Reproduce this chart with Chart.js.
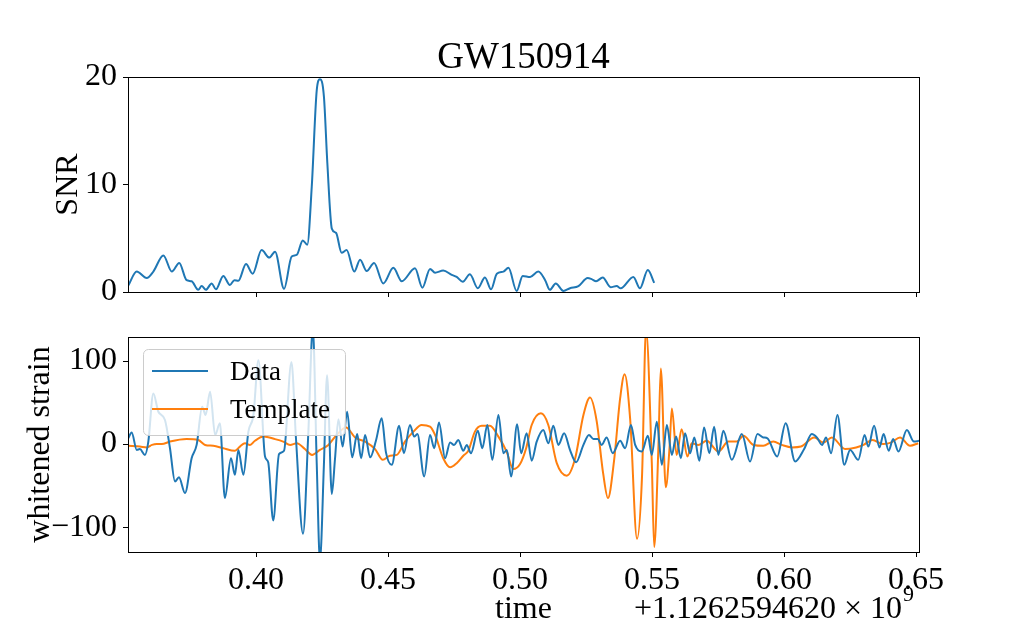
<!DOCTYPE html>
<html>
<head>
<meta charset="utf-8">
<title>GW150914</title>
<script src="https://cdn.jsdelivr.net/npm/chart.js@4.4.1/dist/chart.umd.min.js"></script>
<style>
    html, body { margin: 0; padding: 0; background: #fff; }
    #wrap { position: relative; width: 1021px; height: 631px; overflow: hidden; background: #fff; }
    #wrap canvas { position: absolute; left: 0; }
    #snrChart    { top: 0; }
    #strainChart { top: 310px; }
</style>
</head>
<body>
<div id="wrap">
    <canvas id="snrChart" width="1021" height="310"></canvas>
    <canvas id="strainChart" width="1021" height="321"></canvas>
</div>
<script>
// ══════════════════════════════════════════════════════════════
// DATA (time in s, offset +1.1262594620e9)
// ══════════════════════════════════════════════════════════════
const figTitle    = 'GW150914';
const xMin        = 0.3515;
const xMax        = 0.6511;
const xTicks      = [0.40, 0.45, 0.50, 0.55, 0.60, 0.65];
const snrTicks    = [0, 10, 20];
const strainTicks = [-100, 0, 100];
const xLabel      = 'time';
const offsetMain  = '+1.1262594620 \u00d7 10';
const offsetExp   = '9';

const snrTime = [
    0.3516, 0.3548, 0.3586, 0.3611, 0.3649, 0.3681, 0.3709, 0.3737, 0.3756, 0.3781,
    0.3794, 0.3810, 0.3832, 0.3848, 0.3876, 0.3901, 0.3918, 0.3933, 0.3962, 0.3987,
    0.4021, 0.4050, 0.4072, 0.4106, 0.4135, 0.4154, 0.4177, 0.4194, 0.4211, 0.4230,
    0.4242, 0.4257, 0.4270, 0.4287, 0.4303, 0.4324, 0.4343, 0.4372, 0.4394, 0.4419,
    0.4447, 0.4482, 0.4520, 0.4552, 0.4602, 0.4630, 0.4659, 0.4678, 0.4709, 0.4741,
    0.4760, 0.4783, 0.4810, 0.4840, 0.4867, 0.4890, 0.4912, 0.4937, 0.4956, 0.4987,
    0.5010, 0.5038, 0.5069, 0.5095, 0.5113, 0.5135, 0.5164, 0.5189, 0.5221, 0.5256,
    0.5271, 0.5288, 0.5313, 0.5343, 0.5366, 0.5381, 0.5429, 0.5454, 0.5484, 0.5508
];
const snrValue = [
    0.6, 1.9, 1.3, 1.9, 3.4, 1.9, 2.7, 1.1, 1.0, 0.2,
    0.55, 0.2, 0.8, 0.25, 1.5, 0.65, 1.1, 1.05, 2.6, 1.7,
    3.9, 3.2, 3.75, 0.3, 3.3, 3.45, 4.8, 4.4, 9.8, 18.8,
    19.8, 18.2, 12.0, 5.9, 5.5, 3.65, 3.9, 1.9, 3.0, 1.95,
    2.7, 0.8, 2.25, 1.0, 2.2, 0.4, 2.15, 1.8, 2.0, 1.6,
    1.4, 0.95, 1.65, 0.35, 1.35, 0.25, 1.7, 1.9, 2.25, 0.1,
    1.5, 1.4, 1.9, 1.1, 0.2, 0.8, 0.1, 0.35, 0.55, 1.3,
    1.2, 1.0, 1.35, 0.45, 0.55, 0.35, 1.4, 0.35, 2.05, 0.85
];

const dataTime = [
    0.3516, 0.3529, 0.3548, 0.3560, 0.3579, 0.3592, 0.3611, 0.3630, 0.3655, 0.3674,
    0.3693, 0.3708, 0.3731, 0.3756, 0.3775, 0.3796, 0.3809, 0.3826, 0.3845, 0.3863,
    0.3882, 0.3905, 0.3920, 0.3933, 0.3952, 0.3971, 0.3990, 0.4009, 0.4034, 0.4046,
    0.4065, 0.4087, 0.4106, 0.4134, 0.4151, 0.4178, 0.4198, 0.4215, 0.4230, 0.4242,
    0.4257, 0.4269, 0.4287, 0.4299, 0.4312, 0.4328, 0.4345, 0.4364, 0.4383, 0.4398,
    0.4413, 0.4432, 0.4454, 0.4476, 0.4492, 0.4514, 0.4542, 0.4560, 0.4583, 0.4599,
    0.4611, 0.4637, 0.4659, 0.4675, 0.4693, 0.4716, 0.4735, 0.4750, 0.4766, 0.4785,
    0.4798, 0.4814, 0.4840, 0.4857, 0.4876, 0.4895, 0.4918, 0.4937, 0.4950, 0.4966,
    0.4989, 0.5004, 0.5025, 0.5044, 0.5063, 0.5088, 0.5107, 0.5126, 0.5145, 0.5167,
    0.5189, 0.5212, 0.5240, 0.5261, 0.5278, 0.5294, 0.5309, 0.5328, 0.5351, 0.5379,
    0.5398, 0.5420, 0.5436, 0.5461, 0.5484, 0.5499, 0.5518, 0.5537, 0.5556, 0.5575,
    0.5591, 0.5609, 0.5625, 0.5644, 0.5660, 0.5679, 0.5697, 0.5717, 0.5735, 0.5751,
    0.5770, 0.5802, 0.5840, 0.5871, 0.5899, 0.5921, 0.5937, 0.5974, 0.6006, 0.6042,
    0.6076, 0.6105, 0.6124, 0.6144, 0.6159, 0.6178, 0.6202, 0.6228, 0.6250, 0.6281,
    0.6305, 0.6319, 0.6341, 0.6361, 0.6377, 0.6396, 0.6413, 0.6433, 0.6465, 0.6492,
    0.6511
];
const dataValue = [
    7, 14, -7, -6, -13, 3, 61, 39, 29, -5,
    -45, -40, -59, -17, -1, 45, 35, 63, 11, 25,
    -65, -17, -37, -7, -37, 15, 35, 101, -15, -22,
    -92, -12, -8, 99, 8, -108, 14, 140, -25, -140,
    -25, 83, -60, -18, 30, -3, 39, -16, 12, -17,
    11, -16, 4, 31, -10, -25, 22, -11, 23, 9,
    12, -39, 11, -5, 26, -17, 2, -1, 5, -8,
    -1, -11, 16, -5, 23, -19, 35, -11, -7, -39,
    24, -11, 13, -20, 3, 17, 1, 22, -1, 13,
    -7, -22, -1, 11, 6, 6, -1, 8, -11, 4,
    -5, 23, -1, -9, 10, -13, 27, -25, 23, -13,
    9, -17, 13, -11, 8, -20, 20, -11, 21, -13,
    16, -19, 12, -21, 12, 8, 7, -15, 25, -21,
    -6, 12, 8, -1, 8, -11, 35, -25, -7, -19,
    11, -3, 22, -4, 12, -8, 6, -9, 17, 3,
    4
];

const templateTime = [
    0.3516, 0.3560, 0.3586, 0.3606, 0.3624, 0.3643, 0.3674, 0.3737, 0.3781, 0.3807,
    0.3838, 0.3876, 0.3920, 0.3939, 0.3958, 0.3977, 0.3996, 0.4028, 0.4072, 0.4103,
    0.4129, 0.4154, 0.4185, 0.4212, 0.4242, 0.4274, 0.4305, 0.4341, 0.4375, 0.4413,
    0.4451, 0.4480, 0.4507, 0.4533, 0.4564, 0.4596, 0.4627, 0.4659, 0.4678, 0.4709,
    0.4735, 0.4760, 0.4785, 0.4804, 0.4829, 0.4855, 0.4886, 0.4918, 0.4949, 0.4974,
    0.5000, 0.5023, 0.5044, 0.5079, 0.5107, 0.5139, 0.5177, 0.5208, 0.5240, 0.5265,
    0.5290, 0.5315, 0.5333, 0.5356, 0.5379, 0.5396, 0.5417, 0.5443, 0.5462, 0.5477,
    0.5499, 0.5508, 0.5524, 0.5533, 0.5552, 0.5566, 0.5575, 0.5593, 0.5612, 0.5634,
    0.5650, 0.5675, 0.5707, 0.5751, 0.5789, 0.5821, 0.5846, 0.5884, 0.5921, 0.5959,
    0.5991, 0.6030, 0.6064, 0.6114, 0.6149, 0.6181, 0.6231, 0.6273, 0.6301, 0.6334,
    0.6376, 0.6407, 0.6439, 0.6477, 0.6508
];
const templateValue = [
    -2, -3, -4, -1, 0, 0, 3, 6, 5, -1,
    -2, -5, -8, -3, 1, -1, 4, 9, 6, 3,
    -1, 1, -6, -13, -7, -1, 11, 20, 8, 3,
    -6, -19, -14, -13, 3, 15, 23, 21, 11, -17,
    -28, -23, -14, -8, 15, 22, 22, 9, -9, -30,
    -24, -5, 23, 37, 23, -23, -38, -18, 35, 56,
    28, -36, -65, -20, 55, 84, 30, -114, -38, 138,
    -23, -124, -3, 91, -52, -5, 43, -13, 18, -15,
    1, -1, 4, -9, 3, 3, 10, -1, -2, 3,
    -1, -4, -3, 8, 2, 8, -6, -4, -1, 5,
    0, 2, 8, -2, 1
];

// ══════════════════════════════════════════════════════════════
// STYLE HELPERS
// ══════════════════════════════════════════════════════════════
const SERIF = '"Liberation Serif", "DejaVu Serif", serif';
const BLUE  = '#1f77b4';
const ORANGE = '#ff7f0e';

const toPoints = (xs, ys) => xs.map((x, i) => ({ x, y: ys[i] }));
const fmtSigned = v => v < 0 ? '\u2212' + Math.abs(v) : String(v);

const lineSet = (label, xs, ys, color) => ({
    label,
    data: toPoints(xs, ys),
    borderColor: color,
    borderWidth: 2,
    pointRadius: 0,
    fill: false,
    cubicInterpolationMode: 'monotone'
});

const xAxis = (showLabels, height, title) => ({
    type: 'linear', min: xMin, max: xMax,
    afterBuildTicks: s => { s.ticks = xTicks.map(v => ({ value: v })); },
    afterFit: s => { s.height = height; },
    grid: { drawOnChartArea: false, drawTicks: true, tickLength: 5, color: '#000' },
    border: { display: false },
    ticks: {
        display: showLabels, autoSkip: false, maxRotation: 0, padding: 4,
        color: '#000', font: { family: SERIF, size: 32 },
        callback: v => v.toFixed(2)
    },
    title: title ? {
        display: true, text: title, color: '#000',
        font: { family: SERIF, size: 32 }, padding: { top: 0, bottom: 2 }
    } : { display: false }
});

const yAxis = (min, max, ticks, title, titlePad) => ({
    min, max,
    afterBuildTicks: s => { s.ticks = ticks.map(v => ({ value: v })); },
    // fixed width, and no extra room asked for the end labels
    afterFit: s => { s.width = 128; s.paddingTop = 0; s.paddingBottom = 0; },
    grid: { drawOnChartArea: false, drawTicks: true, tickLength: 5, color: '#000' },
    border: { display: false },
    ticks: { color: '#000', padding: 6, font: { family: SERIF, size: 32 }, callback: fmtSigned },
    title: {
        display: true, text: title, color: '#000',
        font: { family: SERIF, size: 32 }, padding: { top: titlePad, bottom: 0 }
    }
});

// ── Axes frame (all four spines) ────────────────────────────
const framePlugin = {
    id: 'frame',
    afterDatasetsDraw(chart) {
        const { ctx, chartArea: a } = chart;
        ctx.save();
        ctx.strokeStyle = '#000';
        ctx.lineWidth = 1;
        ctx.strokeRect(Math.round(a.left) + 0.5, Math.round(a.top) + 0.5,
                       Math.round(a.right - a.left), Math.round(a.bottom - a.top));
        ctx.restore();
    }
};

// ── Title above the top panel ───────────────────────────────
const titlePlugin = {
    id: 'figTitle',
    afterDraw(chart) {
        const { ctx, chartArea: a } = chart;
        ctx.save();
        ctx.fillStyle = '#000';
        ctx.font = '37px ' + SERIF;
        ctx.textAlign = 'center';
        ctx.textBaseline = 'alphabetic';
        ctx.fillText(figTitle, (a.left + a.right) / 2, 68);
        ctx.restore();
    }
};

// ── Legend drawn inside the axes (upper left) ───────────────
const innerLegend = {
    id: 'innerLegend',
    afterDatasetsDraw(chart) {
        const { ctx } = chart;
        const bx = 143, by = 39, bw = 202, bh = 86, r = 5;
        ctx.save();
        ctx.beginPath();
        ctx.roundRect(bx + 0.5, by + 0.5, bw, bh, r);
        ctx.fillStyle = 'rgba(255,255,255,0.8)';
        ctx.fill();
        ctx.strokeStyle = '#cccccc';
        ctx.lineWidth = 1;
        ctx.stroke();
        chart.data.datasets.forEach((ds, i) => {
            const y = by + 22 + i * 38;
            ctx.beginPath();
            ctx.moveTo(152, y);
            ctx.lineTo(208, y);
            ctx.strokeStyle = ds.borderColor;
            ctx.lineWidth = 2;
            ctx.stroke();
            ctx.fillStyle = '#000';
            ctx.font = '27px ' + SERIF;
            ctx.textAlign = 'left';
            ctx.textBaseline = 'middle';
            ctx.fillText(ds.label, 230, y + 2);
        });
        ctx.restore();
    }
};

// ── Offset text of the time axis ────────────────────────────
const offsetPlugin = {
    id: 'offsetText',
    afterDraw(chart) {
        const { ctx, chartArea: a } = chart;
        ctx.save();
        ctx.fillStyle = '#000';
        ctx.textBaseline = 'alphabetic';
        ctx.textAlign = 'right';
        ctx.font = '22px ' + SERIF;
        const right = a.right - 5;
        ctx.fillText(offsetExp, right, 291);
        const expW = ctx.measureText(offsetExp).width;
        ctx.font = '32px ' + SERIF;
        ctx.fillText(offsetMain, right - expW - 1, 308);
        ctx.restore();
    }
};

// ══════════════════════════════════════════════════════════════
// CHARTS
// ══════════════════════════════════════════════════════════════
const baseOpts = {
    responsive: false,
    animation: false,
    events: [],
    plugins: { legend: { display: false }, tooltip: { enabled: false } }
};

new Chart(document.getElementById('snrChart'), {
    type: 'line',
    data: { datasets: [lineSet('SNR', snrTime, snrValue, BLUE)] },
    options: {
        ...baseOpts,
        layout: { padding: { top: 77, right: 102, bottom: 0, left: 0 } },
        scales: {
            x: xAxis(false, 18, null),
            y: yAxis(0, 20, snrTicks, 'SNR', 49)
        }
    },
    plugins: [framePlugin, titlePlugin]
});

new Chart(document.getElementById('strainChart'), {
    type: 'line',
    data: {
        datasets: [
            lineSet('Data', dataTime, dataValue, BLUE),
            lineSet('Template', templateTime, templateValue, ORANGE)
        ]
    },
    options: {
        ...baseOpts,
        layout: { padding: { top: 27, right: 102, bottom: 0, left: 0 } },
        scales: {
            x: xAxis(true, 79, xLabel),
            y: yAxis(-130, 129, strainTicks, 'whitened strain', 21)
        }
    },
    plugins: [framePlugin, innerLegend, offsetPlugin]
});
</script>
</body>
</html>
